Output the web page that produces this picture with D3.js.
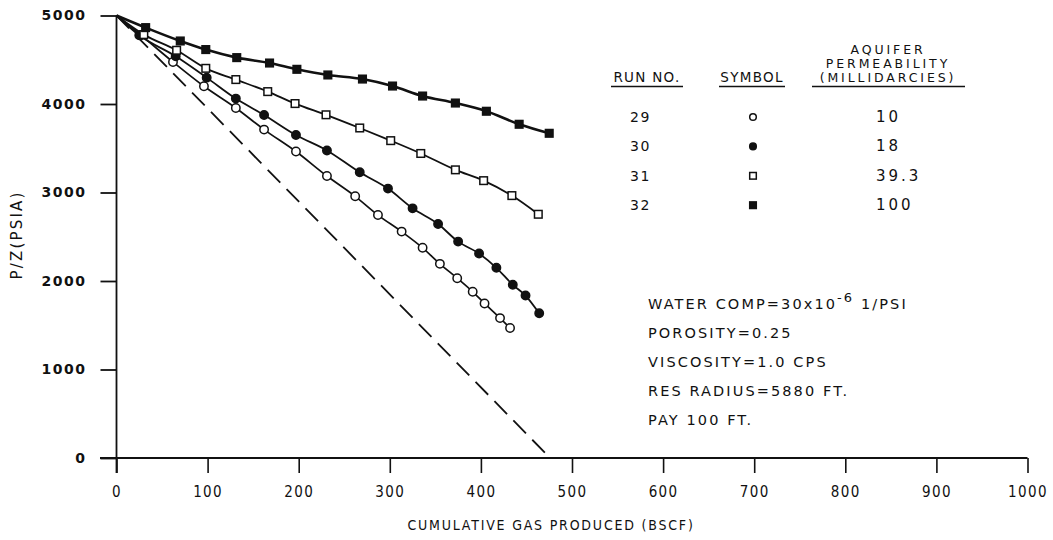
<!DOCTYPE html>
<html>
<head>
<meta charset="utf-8">
<script src="https://cdn.jsdelivr.net/npm/d3@7"></script>
<style>
  html, body { margin: 0; padding: 0; background: #fff; }
  svg { display: block; }
  text { fill: #111; font-family: "DejaVu Sans", "Liberation Sans", sans-serif; }
</style>
</head>
<body>
<svg id="chart" width="1053" height="540"></svg>
<script>
// ---------------- DATA ----------------
const xTicks = [0, 100, 200, 300, 400, 500, 600, 700, 800, 900, 1000];
const yTicks = [0, 1000, 2000, 3000, 4000, 5000];
const xTitle = "CUMULATIVE GAS PRODUCED (BSCF)";
const yTitle = "P/Z(PSIA)";

const startPoint = [0, 5000];

// Run 29 – open circles (10 md)
const run29 = [
  [27, 4776], [62, 4475], [96, 4200], [131, 3955], [162, 3711], [197, 3463],
  [231, 3186], [262, 2957], [287, 2745], [313, 2558], [336, 2375], [355, 2194],
  [374, 2031], [391, 1878], [404, 1746], [421, 1581], [432, 1469]
];
// Run 30 – filled circles (18 md)
const run30 = [
  [25, 4776], [65, 4539], [99, 4298], [131, 4061], [162, 3876], [197, 3649],
  [231, 3475], [267, 3228], [298, 3044], [325, 2821], [353, 2644], [375, 2445],
  [398, 2310], [417, 2149], [435, 1957], [449, 1836], [464, 1635]
];
// Run 31 – open squares (39.3 md)
const run31 = [
  [30, 4784], [66, 4607], [98, 4403], [131, 4276], [166, 4140], [196, 4005],
  [230, 3878], [267, 3729], [301, 3586], [334, 3441], [372, 3256], [403, 3134],
  [434, 2965], [463, 2754]
];
// Run 32 – filled squares (100 md)
const run32 = [
  [32, 4863], [70, 4712], [98, 4615], [132, 4524], [168, 4463], [198, 4392],
  [232, 4328], [270, 4282], [303, 4203], [336, 4090], [372, 4011], [406, 3918],
  [442, 3771], [475, 3669]
];
// Volumetric (no water influx) reference line
const volumetric = [[0, 5000], [476, 0]];

const runNumbers = ["29", "30", "31", "32"];
const runSymbols = ["openCircle", "filledCircle", "openSquare", "filledSquare"];
const permeabilities = ["10", "18", "39.3", "100"];
const legendHeaders = ["RUN NO.", "SYMBOL"];
const permHeader = ["AQUIFER", "PERMEABILITY", "(MILLIDARCIES)"];

const notes = ["POROSITY=0.25", "VISCOSITY=1.0 CPS", "RES RADIUS=5880 FT.", "PAY 100 FT."];

// ---------------- DRAW ----------------
const svg = d3.select("#chart");
const x = d3.scaleLinear().domain([0, 1000]).range([116.5, 1027.5]);
const y = d3.scaleLinear().domain([0, 5000]).range([458, 15.5]);

const ink = "#111";

// Axes
const gx = svg.append("g").attr("transform", `translate(0,${y(0)})`)
  .call(d3.axisBottom(x).tickValues(xTicks).tickSize(15).tickPadding(13).tickFormat(d3.format("d")));
gx.select(".domain").remove();
gx.selectAll(".tick line").attr("stroke", ink).attr("stroke-width", 1.6);
gx.selectAll(".tick text")
  .style("font-family", '"DejaVu Sans Condensed", "DejaVu Sans", sans-serif')
  .style("font-size", "15px").style("letter-spacing", "1.4px").attr("fill", ink);
svg.append("line").attr("x1", 100).attr("x2", x(1000)).attr("y1", y(0)).attr("y2", y(0))
  .attr("stroke", ink).attr("stroke-width", 2.2);

const gy = svg.append("g").attr("transform", `translate(${x(0)},0)`)
  .call(d3.axisLeft(y).tickValues(yTicks).tickSize(16).tickPadding(14).tickFormat(d3.format("d")));
gy.select(".domain").remove();
gy.selectAll(".tick line").attr("stroke", ink).attr("stroke-width", 1.8);
gy.selectAll(".tick text")
  .style("font-size", "14px").style("letter-spacing", "1.5px").style("font-weight", "bold").attr("fill", ink);
svg.append("line").attr("x1", x(0)).attr("x2", x(0)).attr("y1", y(5000)).attr("y2", y(0) + 15)
  .attr("stroke", ink).attr("stroke-width", 1.8);

// Axis titles
svg.append("text").attr("x", 551).attr("y", 530).attr("text-anchor", "middle")
  .style("font-family", '"DejaVu Sans Condensed", "DejaVu Sans", sans-serif')
  .style("font-size", "14px").style("letter-spacing", "1.8px").text(xTitle);
svg.append("text").attr("transform", `translate(22,235) rotate(-90)`).attr("text-anchor", "middle")
  .style("font-size", "15px").style("letter-spacing", "2.2px").text(yTitle);

// Dashed volumetric line
const line = d3.line().x(d => x(d[0])).y(d => y(d[1]));
svg.append("path").datum(volumetric).attr("d", line).attr("fill", "none")
  .attr("stroke", ink).attr("stroke-width", 1.8).attr("stroke-dasharray", "18,9");

// Series
const curve = d3.line().x(d => x(d[0])).y(d => y(d[1])).curve(d3.curveMonotoneX);
const series = [
  { data: run29, sym: "openCircle", w: 1.7 },
  { data: run30, sym: "filledCircle", w: 1.8 },
  { data: run31, sym: "openSquare", w: 1.8 },
  { data: run32, sym: "filledSquare", w: 2.6 }
];
series.forEach(s => {
  svg.append("path").datum([startPoint].concat(s.data)).attr("d", curve)
    .attr("fill", "none").attr("stroke", ink).attr("stroke-width", s.w);
});

function drawSymbol(g, sym, cx, cy, size) {
  if (sym === "openCircle" || sym === "filledCircle") {
    g.append("circle").attr("cx", cx).attr("cy", cy).attr("r", size)
      .attr("fill", sym === "openCircle" ? "#fff" : ink)
      .attr("stroke", ink).attr("stroke-width", 1.5);
  } else {
    g.append("rect").attr("x", cx - size).attr("y", cy - size)
      .attr("width", size * 2).attr("height", size * 2)
      .attr("fill", sym === "openSquare" ? "#fff" : ink)
      .attr("stroke", ink).attr("stroke-width", 1.5);
  }
}
const gm = svg.append("g");
series.forEach(s => {
  s.data.forEach(d => drawSymbol(gm, s.sym, x(d[0]), y(d[1]), s.sym.includes("Circle") ? 4.2 : 3.8));
});

// Legend table
const lg = svg.append("g");
const hdrStyle = sel => sel.style("font-size", "13.5px").style("letter-spacing", "1.3px");
hdrStyle(lg.append("text").attr("x", 647).attr("y", 82).attr("text-anchor", "middle").text(legendHeaders[0]));
hdrStyle(lg.append("text").attr("x", 752).attr("y", 82).attr("text-anchor", "middle").text(legendHeaders[1]));
permHeader.forEach((t, i) => {
  lg.append("text").attr("x", 888).attr("y", 54 + i * 14).attr("text-anchor", "middle")
    .style("font-size", "12.5px").style("letter-spacing", "2.9px").text(t);
});
[[611, 683], [719, 785], [812, 965]].forEach(([a, b]) => {
  lg.append("line").attr("x1", a).attr("x2", b).attr("y1", 86.5).attr("y2", 86.5)
    .attr("stroke", ink).attr("stroke-width", 1.5);
});
runNumbers.forEach((r, i) => {
  const cy = 117 + i * 29.4;
  lg.append("text").attr("x", 630).attr("y", cy + 5).style("font-size", "14px")
    .style("letter-spacing", "1.5px").text(r);
  drawSymbol(lg, runSymbols[i], 753, cy, 3.3);
  lg.append("text").attr("x", 876).attr("y", cy + 5).style("font-size", "15px")
    .style("letter-spacing", "3px").text(permeabilities[i]);
});

// Notes
const ng = svg.append("g").style("font-size", "14.5px").style("letter-spacing", "2.1px");
const w = ng.append("text").attr("x", 648).attr("y", 309);
w.append("tspan").text("WATER COMP=30x10");
w.append("tspan").attr("dy", -7).style("font-size", "13px").text("-6");
w.append("tspan").attr("dy", 7).text(" 1/PSI");
notes.forEach((t, i) => {
  ng.append("text").attr("x", 648).attr("y", 338 + i * 29).text(t);
});
</script>
</body>
</html>
